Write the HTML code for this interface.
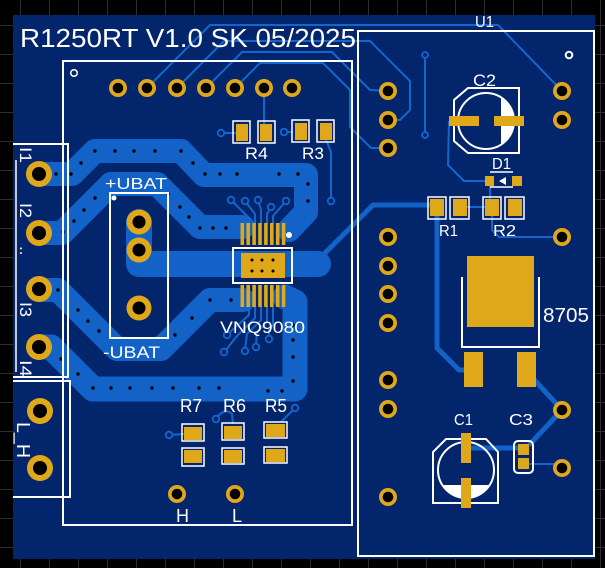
<!DOCTYPE html>
<html>
<head>
<meta charset="utf-8">
<style>
html,body{margin:0;padding:0;background:#000;}
svg{display:block;}
text{font-family:"Liberation Sans",sans-serif;fill:#fff;}
</style>
</head>
<body>
<svg width="605" height="568" viewBox="0 0 605 568" xmlns="http://www.w3.org/2000/svg">
<rect width="605" height="568" fill="#000"/>
<!-- grid -->
<g stroke="#2e2e2e" stroke-width="1">
<line x1="20.5" y1="0" x2="20.5" y2="568"/><line x1="49.5" y1="0" x2="49.5" y2="568"/><line x1="78.5" y1="0" x2="78.5" y2="568"/><line x1="107.5" y1="0" x2="107.5" y2="568"/><line x1="136.5" y1="0" x2="136.5" y2="568"/><line x1="165.5" y1="0" x2="165.5" y2="568"/><line x1="194.5" y1="0" x2="194.5" y2="568"/><line x1="223.5" y1="0" x2="223.5" y2="568"/><line x1="252.5" y1="0" x2="252.5" y2="568"/><line x1="281.5" y1="0" x2="281.5" y2="568"/><line x1="310.5" y1="0" x2="310.5" y2="568"/><line x1="339.5" y1="0" x2="339.5" y2="568"/><line x1="368.5" y1="0" x2="368.5" y2="568"/><line x1="397.5" y1="0" x2="397.5" y2="568"/><line x1="426.5" y1="0" x2="426.5" y2="568"/><line x1="455.5" y1="0" x2="455.5" y2="568"/><line x1="484.5" y1="0" x2="484.5" y2="568"/><line x1="513.5" y1="0" x2="513.5" y2="568"/><line x1="542.5" y1="0" x2="542.5" y2="568"/><line x1="571.5" y1="0" x2="571.5" y2="568"/><line x1="600.5" y1="0" x2="600.5" y2="568"/>
<line x1="0" y1="25.5" x2="605" y2="25.5"/><line x1="0" y1="54.5" x2="605" y2="54.5"/><line x1="0" y1="83.5" x2="605" y2="83.5"/><line x1="0" y1="112.5" x2="605" y2="112.5"/><line x1="0" y1="141.5" x2="605" y2="141.5"/><line x1="0" y1="170.5" x2="605" y2="170.5"/><line x1="0" y1="199.5" x2="605" y2="199.5"/><line x1="0" y1="228.5" x2="605" y2="228.5"/><line x1="0" y1="257.5" x2="605" y2="257.5"/><line x1="0" y1="286.5" x2="605" y2="286.5"/><line x1="0" y1="315.5" x2="605" y2="315.5"/><line x1="0" y1="344.5" x2="605" y2="344.5"/><line x1="0" y1="373.5" x2="605" y2="373.5"/><line x1="0" y1="402.5" x2="605" y2="402.5"/><line x1="0" y1="431.5" x2="605" y2="431.5"/><line x1="0" y1="460.5" x2="605" y2="460.5"/><line x1="0" y1="489.5" x2="605" y2="489.5"/><line x1="0" y1="518.5" x2="605" y2="518.5"/><line x1="0" y1="547.5" x2="605" y2="547.5"/>
</g>
<!-- board -->
<rect x="13" y="15" width="582" height="544" fill="#03256b"/>

<!-- wide copper bands -->
<g fill="none" stroke="#1262c8" stroke-linecap="round" stroke-linejoin="round">
<path d="M39,174 L72,174 L95,151 L181,151 L204,175 L306,175 L306,212 L289,230" stroke-width="24"/>
<path d="M39,233 L62,233 L111,184 L157,184 L200,227 L243,227" stroke-width="24"/>
<path d="M139,222 L139,264 L318,264" stroke-width="26"/>
<path d="M39,290 L58,290 L117,349 L161,349 L210,300 L243,300" stroke-width="24"/>
<path d="M39,347 L51,347 L93,389 L295,389 L295,302 L285,297" stroke-width="25"/>
<!-- medium traces -->
<path d="M322,256 L373,205 L432,205" stroke-width="5"/>
<path d="M437,215 L437,348 L459,370 L472,370" stroke-width="5"/>
<path d="M530,375 L562,410 L530,444" stroke-width="5"/>
<path d="M468,448 L520,448" stroke-width="5"/>
</g>

<!-- thin traces -->
<g fill="none" stroke="#1466cc" stroke-width="2" stroke-linejoin="round">
<path d="M147,88 L210,25 L498,25 L562,91"/>
<path d="M177,88 L224,41 L370,41 L410,81 L410,110 L400,120 L388,120"/>
<path d="M206,88 L242,52 L332,52 L370,90 L388,91"/>
<path d="M235,88 L260,63 L323,63 L350,90 L350,127 L371,148 L388,148"/>
<path d="M264,88 L264,125"/>
<path d="M326,140 L331,152 L331,201"/>
<path d="M221,133 L236,133"/>
<path d="M284,132 L293,132"/>
<path d="M425,55 L425,135"/>
<path d="M449,121 L448,165 L464,181 L486,181"/>
<path d="M490,185 L490,205"/>
<path d="M467,207 L485,207"/>
<path d="M492,216 L492,230 L499,237 L562,237"/>
<path d="M528,464 L555,464 L562,468"/>
<!-- IC top -->
<path d="M231,200 L249,218 L249,224"/>
<path d="M245,201 L255,214 L255,224"/>
<path d="M258,200 L261,210 L261,224"/>
<path d="M271,207 L267,214 L267,224"/>
<path d="M286,201 L273,216 L273,224"/>
<!-- IC bottom -->
<path d="M249,306 L249,315 L229,333"/>
<path d="M255,306 L255,318 L236,337 L226,350"/>
<path d="M261,306 L261,320 L247,334 L245,349"/>
<path d="M267,306 L267,322 L257,332 L256,345"/>
<path d="M273,306 L273,325 L269,330 L269,337"/>
<!-- R vias -->
<path d="M169,435 L184,434"/>
<path d="M216,419 Q224,407 232,414 L233,424"/>
<path d="M295,408 L281,422"/>
</g>

<!-- small vias (rings) -->
<g fill="#03256b" stroke="#1466cc" stroke-width="1.8">
<circle cx="221" cy="133" r="3.3"/><circle cx="284" cy="132" r="3.3"/>
<circle cx="331" cy="201" r="3.3"/>
<circle cx="425" cy="55" r="3"/><circle cx="425" cy="135" r="3"/>
<circle cx="231" cy="200" r="3.3"/><circle cx="245" cy="201" r="3.3"/><circle cx="258" cy="200" r="3.3"/><circle cx="271" cy="207" r="3.3"/><circle cx="286" cy="201" r="3.3"/>
<circle cx="227" cy="335" r="3.3"/><circle cx="224" cy="352" r="3.3"/><circle cx="245" cy="351" r="3.3"/><circle cx="256" cy="347" r="3.3"/><circle cx="269" cy="339" r="3.3"/>
<circle cx="169" cy="435" r="3.3"/><circle cx="216" cy="419" r="3.3"/><circle cx="295" cy="408" r="3.3"/>
</g>

<!-- black stitching dots -->
<g fill="#000">
<circle cx="56" cy="174" r="1.7"/><circle cx="71" cy="174" r="1.7"/><circle cx="81" cy="163" r="1.7"/><circle cx="95" cy="151" r="1.7"/><circle cx="115" cy="151" r="1.7"/><circle cx="134" cy="151" r="1.7"/><circle cx="155" cy="151" r="1.7"/><circle cx="181" cy="151" r="1.7"/><circle cx="193" cy="163" r="1.7"/><circle cx="205" cy="174" r="1.7"/><circle cx="220" cy="174" r="1.7"/><circle cx="237" cy="174" r="1.7"/><circle cx="279" cy="174" r="1.7"/><circle cx="298" cy="174" r="1.7"/><circle cx="308" cy="184" r="1.7"/><circle cx="308" cy="201" r="1.7"/>
<circle cx="63" cy="232" r="1.7"/><circle cx="74" cy="221" r="1.7"/><circle cx="84" cy="210" r="1.7"/><circle cx="95" cy="198" r="1.7"/><circle cx="180" cy="207" r="1.7"/><circle cx="189" cy="217" r="1.7"/><circle cx="200" cy="228" r="1.7"/><circle cx="213" cy="228" r="1.7"/><circle cx="226" cy="228" r="1.7"/>
<circle cx="58" cy="290" r="1.7"/><circle cx="78" cy="310" r="1.7"/><circle cx="88" cy="321" r="1.7"/><circle cx="99" cy="331" r="1.7"/><circle cx="175" cy="335" r="1.7"/><circle cx="192" cy="318" r="1.7"/><circle cx="210" cy="300" r="1.7"/><circle cx="231" cy="300" r="1.7"/>
<circle cx="61" cy="359" r="1.7"/><circle cx="78" cy="374" r="1.7"/><circle cx="93" cy="388" r="1.7"/><circle cx="111" cy="388" r="1.7"/><circle cx="130" cy="388" r="1.7"/><circle cx="152" cy="388" r="1.7"/><circle cx="173" cy="388" r="1.7"/><circle cx="199" cy="388" r="1.7"/><circle cx="219" cy="388" r="1.7"/><circle cx="268" cy="391" r="1.7"/><circle cx="282" cy="391" r="1.7"/><circle cx="293" cy="325" r="1.7"/><circle cx="293" cy="340" r="1.7"/><circle cx="293" cy="357" r="1.7"/><circle cx="293" cy="381" r="1.7"/>
<circle cx="168" cy="194" r="1.7"/>
</g>

<!-- silkscreen outlines -->
<g fill="none" stroke="#fff" stroke-width="2">
<rect x="63" y="61" width="289" height="464"/>
<rect x="358" y="31" width="236" height="525"/>
<path d="M13,144 L68,144 L68,378 M13,377 L68,377"/>
<path d="M13,381 L70,381 L70,497 L13,497"/>
<rect x="110" y="193" width="58" height="145"/>
<!-- C2 -->
<path d="M468,88 L519,88 L519,153 L468,153 L454,141 L454,100 Z"/>
<circle cx="486" cy="121" r="28"/>
<!-- C1 -->
<path d="M433,503 L433,452 L446,439 L486,439 L498,452 L498,503 Z"/>
<circle cx="466" cy="470" r="28"/>
<!-- regulator -->
<path d="M462,277 L462,347 L539,347 L539,277"/>
<!-- C3 -->
<rect x="514" y="441" width="19" height="32" rx="4"/>
</g>
<g fill="none" stroke="#fff" stroke-width="1.5">
<path d="M16,160 L16,372"/>
<!-- D1 -->
<path d="M490,172 L513,172 M490,187 L513,187"/>
<!-- resistor outlines -->
<rect x="233" y="121" width="17" height="22"/><rect x="258" y="121" width="17" height="22"/>
<rect x="292" y="120" width="17" height="22"/><rect x="317" y="120" width="17" height="22"/>
<rect x="428" y="197" width="18" height="22"/><rect x="450" y="197" width="19" height="22"/>
<rect x="483" y="197" width="18" height="22"/><rect x="505" y="197" width="19" height="22"/>
<rect x="182" y="424" width="22" height="17"/><rect x="182" y="448" width="22" height="18"/>
<rect x="222" y="423" width="22" height="17"/><rect x="222" y="448" width="22" height="16"/>
<rect x="264" y="422" width="23" height="16"/><rect x="264" y="447" width="23" height="16"/>
<!-- IC outline -->
<rect x="233" y="248" width="59" height="35" stroke-width="2"/>
<circle cx="74" cy="73" r="3.3"/>
<circle cx="569" cy="55" r="3.3" stroke-width="2"/>
</g>
<g fill="#fff">
<path d="M501,97.7 A28,28 0 0 1 501,144.3 Z"/>
<path d="M442,485 A28,28 0 0 0 490,485 Z"/>
<polygon points="499,181 506,177 506,185"/>
<circle cx="114" cy="198" r="2.5"/>
<circle cx="289" cy="235" r="3"/>
</g>

<!-- SMD pads -->
<g fill="#dfa81a">
<rect x="236" y="124" width="12" height="17"/><rect x="260" y="124" width="12" height="17"/>
<rect x="295" y="123" width="12" height="17"/><rect x="320" y="123" width="12" height="17"/>
<rect x="430" y="199" width="14" height="17"/><rect x="453" y="199" width="14" height="17"/>
<rect x="485" y="199" width="14" height="17"/><rect x="508" y="199" width="14" height="17"/>
<rect x="184" y="427" width="18" height="13"/><rect x="184" y="450" width="18" height="13"/>
<rect x="224" y="426" width="18" height="13"/><rect x="224" y="450" width="18" height="13"/>
<rect x="266" y="424" width="19" height="13"/><rect x="266" y="449" width="19" height="13"/>
<rect x="449" y="116" width="30" height="10"/><rect x="494" y="116" width="30" height="10"/>
<rect x="485" y="176" width="9" height="10"/><rect x="512" y="176" width="10" height="10"/>
<rect x="467" y="256" width="67" height="71"/>
<rect x="464" y="352" width="19" height="35"/><rect x="517" y="352" width="19" height="35"/>
<rect x="461" y="433" width="10" height="30"/><rect x="461" y="478" width="10" height="30"/>
<rect x="518" y="444" width="11" height="11"/><rect x="518" y="458" width="11" height="11"/>
<!-- IC -->
<rect x="241" y="253" width="44" height="25"/>
<rect x="240.5" y="223" width="3.6" height="22"/><rect x="246.4" y="223" width="3.6" height="22"/><rect x="252.3" y="223" width="3.6" height="22"/><rect x="258.2" y="223" width="3.6" height="22"/><rect x="264.1" y="223" width="3.6" height="22"/><rect x="270" y="223" width="3.6" height="22"/><rect x="275.9" y="223" width="3.6" height="22"/><rect x="281.8" y="223" width="3.6" height="22"/>
<rect x="240.5" y="285" width="3.6" height="22"/><rect x="246.4" y="285" width="3.6" height="22"/><rect x="252.3" y="285" width="3.6" height="22"/><rect x="258.2" y="285" width="3.6" height="22"/><rect x="264.1" y="285" width="3.6" height="22"/><rect x="270" y="285" width="3.6" height="22"/><rect x="275.9" y="285" width="3.6" height="22"/><rect x="281.8" y="285" width="3.6" height="22"/>
</g>
<g fill="#000">
<circle cx="252" cy="260" r="1.5"/><circle cx="262" cy="260" r="1.5"/><circle cx="273" cy="260" r="1.5"/>
<circle cx="252" cy="271" r="1.5"/><circle cx="262" cy="271" r="1.5"/><circle cx="273" cy="271" r="1.5"/>
</g>

<!-- through-hole pads -->
<g fill="#dfa81a">
<circle cx="39" cy="174" r="13"/><circle cx="39" cy="233" r="13"/><circle cx="39" cy="289" r="13"/><circle cx="39" cy="347" r="13"/>
<circle cx="40" cy="411" r="13"/><circle cx="40" cy="468" r="13"/>
<circle cx="139" cy="222" r="12.5"/><circle cx="139" cy="250" r="12.5"/><circle cx="139" cy="308" r="12.5"/>
<circle cx="118" cy="88" r="9"/><circle cx="147" cy="88" r="9"/><circle cx="177" cy="88" r="9"/><circle cx="206" cy="88" r="9"/><circle cx="235" cy="88" r="9"/><circle cx="264" cy="88" r="9"/><circle cx="292" cy="88" r="9"/>
<circle cx="388" cy="91" r="9"/><circle cx="388" cy="120" r="9"/><circle cx="388" cy="148" r="9"/><circle cx="388" cy="237" r="9"/><circle cx="388" cy="266" r="9"/><circle cx="388" cy="294" r="9"/><circle cx="388" cy="323" r="9"/><circle cx="388" cy="380" r="9"/><circle cx="388" cy="409" r="9"/><circle cx="388" cy="497" r="9"/>
<circle cx="562" cy="91" r="9"/><circle cx="562" cy="120" r="9"/><circle cx="562" cy="237" r="9"/><circle cx="562" cy="410" r="9"/><circle cx="562" cy="468" r="9"/>
<circle cx="177" cy="494" r="9"/><circle cx="235" cy="494" r="9"/>
</g>
<g fill="#000">
<circle cx="39" cy="174" r="7"/><circle cx="39" cy="233" r="7"/><circle cx="39" cy="289" r="7"/><circle cx="39" cy="347" r="7"/>
<circle cx="40" cy="411" r="7"/><circle cx="40" cy="468" r="7"/>
<circle cx="139" cy="222" r="6.5"/><circle cx="139" cy="250" r="6.5"/><circle cx="139" cy="308" r="6.5"/>
<circle cx="118" cy="88" r="5.3"/><circle cx="147" cy="88" r="5.3"/><circle cx="177" cy="88" r="5.3"/><circle cx="206" cy="88" r="5.3"/><circle cx="235" cy="88" r="5.3"/><circle cx="264" cy="88" r="5.3"/><circle cx="292" cy="88" r="5.3"/>
<circle cx="388" cy="91" r="5.3"/><circle cx="388" cy="120" r="5.3"/><circle cx="388" cy="148" r="5.3"/><circle cx="388" cy="237" r="5.3"/><circle cx="388" cy="266" r="5.3"/><circle cx="388" cy="294" r="5.3"/><circle cx="388" cy="323" r="5.3"/><circle cx="388" cy="380" r="5.3"/><circle cx="388" cy="409" r="5.3"/><circle cx="388" cy="497" r="5.3"/>
<circle cx="562" cy="91" r="5.3"/><circle cx="562" cy="120" r="5.3"/><circle cx="562" cy="237" r="5.3"/><circle cx="562" cy="410" r="5.3"/><circle cx="562" cy="468" r="5.3"/>
<circle cx="177" cy="494" r="5.3"/><circle cx="235" cy="494" r="5.3"/>
</g>

<!-- labels -->
<text x="20" y="47" font-size="26" textLength="336" lengthAdjust="spacingAndGlyphs">R1250RT V1.0 SK 05/2025</text>
<text x="475" y="27" font-size="16" textLength="19" lengthAdjust="spacingAndGlyphs">U1</text>
<text x="473" y="86" font-size="17" textLength="23" lengthAdjust="spacingAndGlyphs">C2</text>
<text x="492" y="169" font-size="16" textLength="19" lengthAdjust="spacingAndGlyphs">D1</text>
<text x="439" y="236" font-size="16" textLength="19" lengthAdjust="spacingAndGlyphs">R1</text>
<text x="493" y="236" font-size="16" textLength="23" lengthAdjust="spacingAndGlyphs">R2</text>
<text x="543" y="322" font-size="20" textLength="46" lengthAdjust="spacingAndGlyphs">8705</text>
<text x="454" y="425" font-size="16" textLength="19" lengthAdjust="spacingAndGlyphs">C1</text>
<text x="509" y="425" font-size="16" textLength="24" lengthAdjust="spacingAndGlyphs">C3</text>
<text x="245" y="159" font-size="17" textLength="23" lengthAdjust="spacingAndGlyphs">R4</text>
<text x="302" y="159" font-size="17" textLength="22" lengthAdjust="spacingAndGlyphs">R3</text>
<text x="105" y="189" font-size="16" textLength="62" lengthAdjust="spacingAndGlyphs">+UBAT</text>
<text x="103" y="358" font-size="17" textLength="57" lengthAdjust="spacingAndGlyphs">-UBAT</text>
<text x="220" y="333" font-size="17" textLength="85" lengthAdjust="spacingAndGlyphs">VNQ9080</text>
<text x="180" y="412" font-size="18" textLength="22" lengthAdjust="spacingAndGlyphs">R7</text>
<text x="223" y="412" font-size="18" textLength="23" lengthAdjust="spacingAndGlyphs">R6</text>
<text x="265" y="412" font-size="18" textLength="22" lengthAdjust="spacingAndGlyphs">R5</text>
<text x="176" y="522" font-size="18">H</text>
<text x="232" y="522" font-size="18">L</text>
<g font-size="17">
<text transform="translate(20,147) rotate(90)" textLength="16" lengthAdjust="spacingAndGlyphs">I1</text>
<text transform="translate(20,203) rotate(90)" textLength="15" lengthAdjust="spacingAndGlyphs">I2</text>
<text transform="translate(20,246) rotate(90)">..</text>
<text transform="translate(20,302) rotate(90)" textLength="15" lengthAdjust="spacingAndGlyphs">I3</text>
<text transform="translate(20,360) rotate(90)" textLength="17" lengthAdjust="spacingAndGlyphs">I4</text>
<text transform="translate(17,422) rotate(90)" font-size="18" textLength="36" lengthAdjust="spacingAndGlyphs">L_H</text>
</g>
</svg>
</body>
</html>
